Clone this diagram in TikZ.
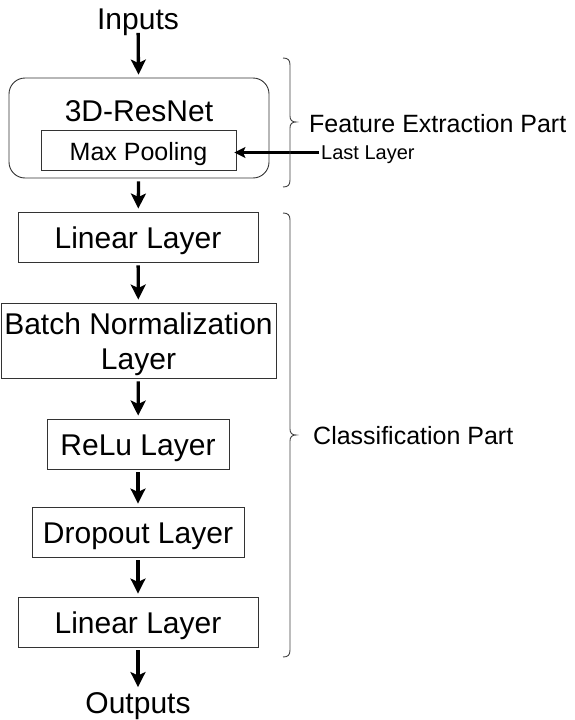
\documentclass[tikz,border=0pt]{standalone}
\usepackage{fontspec}
\setmainfont{Liberation Sans}
\usetikzlibrary{arrows.meta}
\tikzset{
  big/.style={font=\fontsize{30}{35}\selectfont, text height=21.5pt, text depth=0pt},
  mid/.style={font=\fontsize{25}{29}\selectfont, text height=17.9pt, text depth=0pt},
  small/.style={font=\fontsize{20}{24}\selectfont, text height=14.3pt, text depth=0pt},
  box/.style={draw=black!80, line width=0.9pt, inner sep=0pt},
  txt/.style={inner sep=0pt},
  arr/.style={line width=3.3pt, -{Stealth[length=15pt,width=15pt,inset=3.5pt]}, shorten <=3pt, shorten >=3pt},
  thinarr/.style={line width=2.2pt, -{Stealth[length=11pt,width=11pt,inset=2.5pt]}},
  bracestyle/.style={draw=black!75, line width=0.9pt}
}
\begin{document}
\begin{tikzpicture}[x=1pt,y=-1pt]
\useasboundingbox (0,0) rectangle (574,720);
\node[txt, big] (inputs) at (138,19) {Inputs};
\node[draw=black!80, line width=0.9pt, rounded corners=16pt, minimum width=260pt, minimum height=100pt] (resnet) at (139,128) {};
\node[txt, big] (title) at (139,110.5) {3D-ResNet};
\node[box, minimum width=195pt, minimum height=40pt] (maxpool) at (138.5,150) {};
\node[txt, mid] (maxpooltext) at (138.5,151.3) {Max Pooling};
\node[txt, anchor=west, small] (last) at (321,152.5) {Last Layer};
\node[box, minimum width=240pt, minimum height=50pt] (lin1) at (138,237) {};
\node[txt, big] (lin1text) at (138,238) {Linear Layer};
\node[box, minimum width=275pt, minimum height=75pt] (bn) at (138.5,340.5) {};
\node[txt, big] (bntext1) at (138.5,323.5) {Batch Normalization};
\node[txt, big] (bntext2) at (138.5,358.6) {Layer};
\node[box, minimum width=182pt, minimum height=50pt] (relu) at (138,444) {};
\node[txt, big] (relutext) at (138,445) {ReLu Layer};
\node[box, minimum width=212pt, minimum height=50pt] (drop) at (138,532) {};
\node[txt, big] (droptext) at (138,533) {Dropout Layer};
\node[box, minimum width=240pt, minimum height=50pt] (lin2) at (138,622) {};
\node[txt, big] (lin2text) at (138,623) {Linear Layer};
\node[txt, big] (outputs) at (138,703) {Outputs};
\node[txt, anchor=west, mid] (fe) at (309,123.3) {Feature Extraction Part};
\node[txt, anchor=west, mid] (cp) at (313,436) {Classification Part};

\draw[arr] (inputs) -- (resnet);
\draw[arr] (resnet) -- (lin1);
\draw[arr] (lin1) -- (bn);
\draw[arr] (bn) -- (relu);
\draw[arr] (relu) -- (drop);
\draw[arr] (drop) -- (lin2);
\draw[arr, shorten >=5pt] (lin2) -- (outputs);
\draw[thinarr] ([xshift=-2pt]last.west) -- ([xshift=-2pt]last.west -| maxpool.east);

\draw[bracestyle] (283,58) .. controls (288,58) and (290,60) .. (290,65) -- (290,116) .. controls (290,120) and (292,122) .. (296,122) .. controls (292,122) and (290,124) .. (290,128) -- (290,180) .. controls (290,185) and (288,187) .. (283,187);
\draw[bracestyle] (283,213) .. controls (288,213) and (290,215) .. (290,220) -- (290,429) .. controls (290,433) and (292,435) .. (296,435) .. controls (292,435) and (290,437) .. (290,441) -- (290,650) .. controls (290,655) and (288,657) .. (283,657);
\end{tikzpicture}
\end{document}
